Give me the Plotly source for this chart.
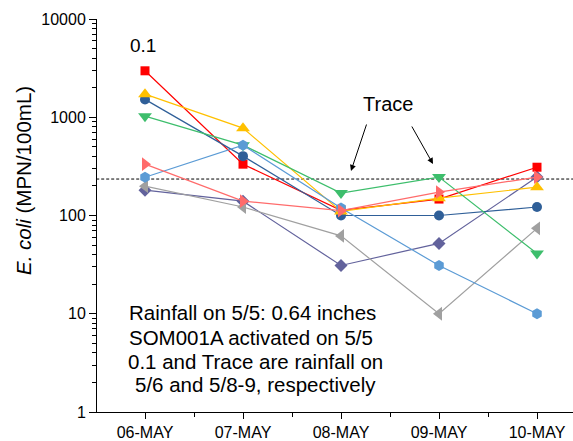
import plotly.graph_objects as go

dates = ["06-MAY", "07-MAY", "08-MAY", "09-MAY", "10-MAY"]
xpos = [0, 1, 2, 3, 4]

purple = [181, 140, 31, 52, 246]
gray = [199, 122, 62, 10, 74]
red = [2970, 333, 113, 147, 310]
darkblue = [1520, 402, 100, 100, 122]
yellow = [1718, 775, 110, 150, 194]
green = [1026, 520, 169, 246, 41]
lightblue = [245, 520, 119, 31, 10]
salmon = [333, 140, 112, 173, 246]

standard = 235

series = [
    ("purple", purple, "#62629C", "diamond", 10),
    ("gray", gray, "#A0A0A0", "triangle-left", 12),
    ("red", red, "#FF0000", "square", 9),
    ("darkblue", darkblue, "#2F5F98", "circle", 10),
    ("yellow", yellow, "#FFC000", "triangle-up", 12),
    ("green", green, "#3DBE6C", "triangle-down", 12),
    ("lightblue", lightblue, "#5B9BD5", "hexagon", 11),
    ("salmon", salmon, "#FF6B6B", "triangle-right", 12),
]

FONT = "Liberation Sans, Arial, sans-serif"

fig = go.Figure()
fig.add_trace(go.Scatter(x=[-0.6, 4.6], y=[standard, standard], mode="lines",
                         line=dict(color="black", width=1, dash="3px,2px"),
                         hoverinfo="skip", showlegend=False))
for name, vals, col, sym, sz in series:
    fig.add_trace(go.Scatter(x=xpos, y=vals, mode="lines+markers", name=name,
                             line=dict(color=col, width=1.2),
                             marker=dict(symbol=sym, size=sz, color=col, line=dict(width=0)),
                             showlegend=False))

L, R, T, B = 97, 0, 19, 29
W, H = 573, 441
pw = W - L - R
ph = H - T - B


def px(xp):
    return (xp - L) / pw


def py(yp):
    return (H - B - yp) / ph


annotations = [
    dict(text="0.1", x=px(142.5), y=py(45), xref="paper", yref="paper",
         xanchor="center", yanchor="middle",
         showarrow=False, font=dict(size=19, color="black", family=FONT)),
    dict(text="Trace", x=px(388), y=py(104), xref="paper", yref="paper",
         xanchor="center", yanchor="middle",
         showarrow=False, font=dict(size=20, color="black", family=FONT)),
    dict(text="", x=px(351), y=py(171), xref="paper", yref="paper",
         showarrow=True, ax=16, ay=-48, axref="pixel", ayref="pixel",
         arrowhead=2, arrowsize=1.2, arrowwidth=1, arrowcolor="black"),
    dict(text="", x=px(433), y=py(164), xref="paper", yref="paper",
         showarrow=True, ax=-22, ay=-39, axref="pixel", ayref="pixel",
         arrowhead=2, arrowsize=1.2, arrowwidth=1, arrowcolor="black"),
    dict(text="<i>E. coli</i> (MPN/100mL)", x=px(23), y=py(181), xref="paper", yref="paper",
         xanchor="center", yanchor="middle",
         textangle=-90, showarrow=False, font=dict(size=20.5, color="black", family=FONT)),
]
notes = [
    ("Rainfall on 5/5: 0.64 inches", 127, 312),
    ("SOM001A activated on 5/5", 127, 337),
    ("0.1 and Trace are rainfall on", 126, 361),
    ("5/6 and 5/8-9, respectively", 133, 384),
]
for t, xx, yy in notes:
    annotations.append(dict(text=t, x=px(xx), y=py(yy), xref="paper", yref="paper",
                            xanchor="left", yanchor="middle", showarrow=False,
                            font=dict(size=20.5, color="black", family=FONT)))

fig.update_layout(
    width=W, height=H, autosize=False,
    margin=dict(l=L, r=R, t=T, b=B, pad=0),
    paper_bgcolor="white", plot_bgcolor="white",
    font=dict(family=FONT, color="black", size=16),
    annotations=annotations,
    xaxis=dict(range=[(L - 145) / 98, (W - 145) / 98], tickmode="array", tickvals=xpos,
               ticktext=dates, showgrid=False, zeroline=False, showline=True,
               linecolor="black", linewidth=1, ticks="outside", ticklen=6, tickwidth=1,
               tickcolor="black", tickfont=dict(size=16),
               minor=dict(tick0=0.5, dtick=1, ticks="outside", ticklen=4, tickcolor="black",
                          showgrid=False)),
    yaxis=dict(type="log", range=[0, 4], tickmode="array", tickvals=[1, 10, 100, 1000, 10000],
               ticktext=["1", "10", "100", "1000", "10000"], showgrid=False, zeroline=False,
               showline=True, linecolor="black", linewidth=1, ticks="outside", ticklen=7,
               tickwidth=1, tickcolor="black", tickfont=dict(size=16),
               minor=dict(ticks="outside", ticklen=4, tickcolor="black", dtick="D1",
                          showgrid=False)),
)

fig.write_html("out.html")
